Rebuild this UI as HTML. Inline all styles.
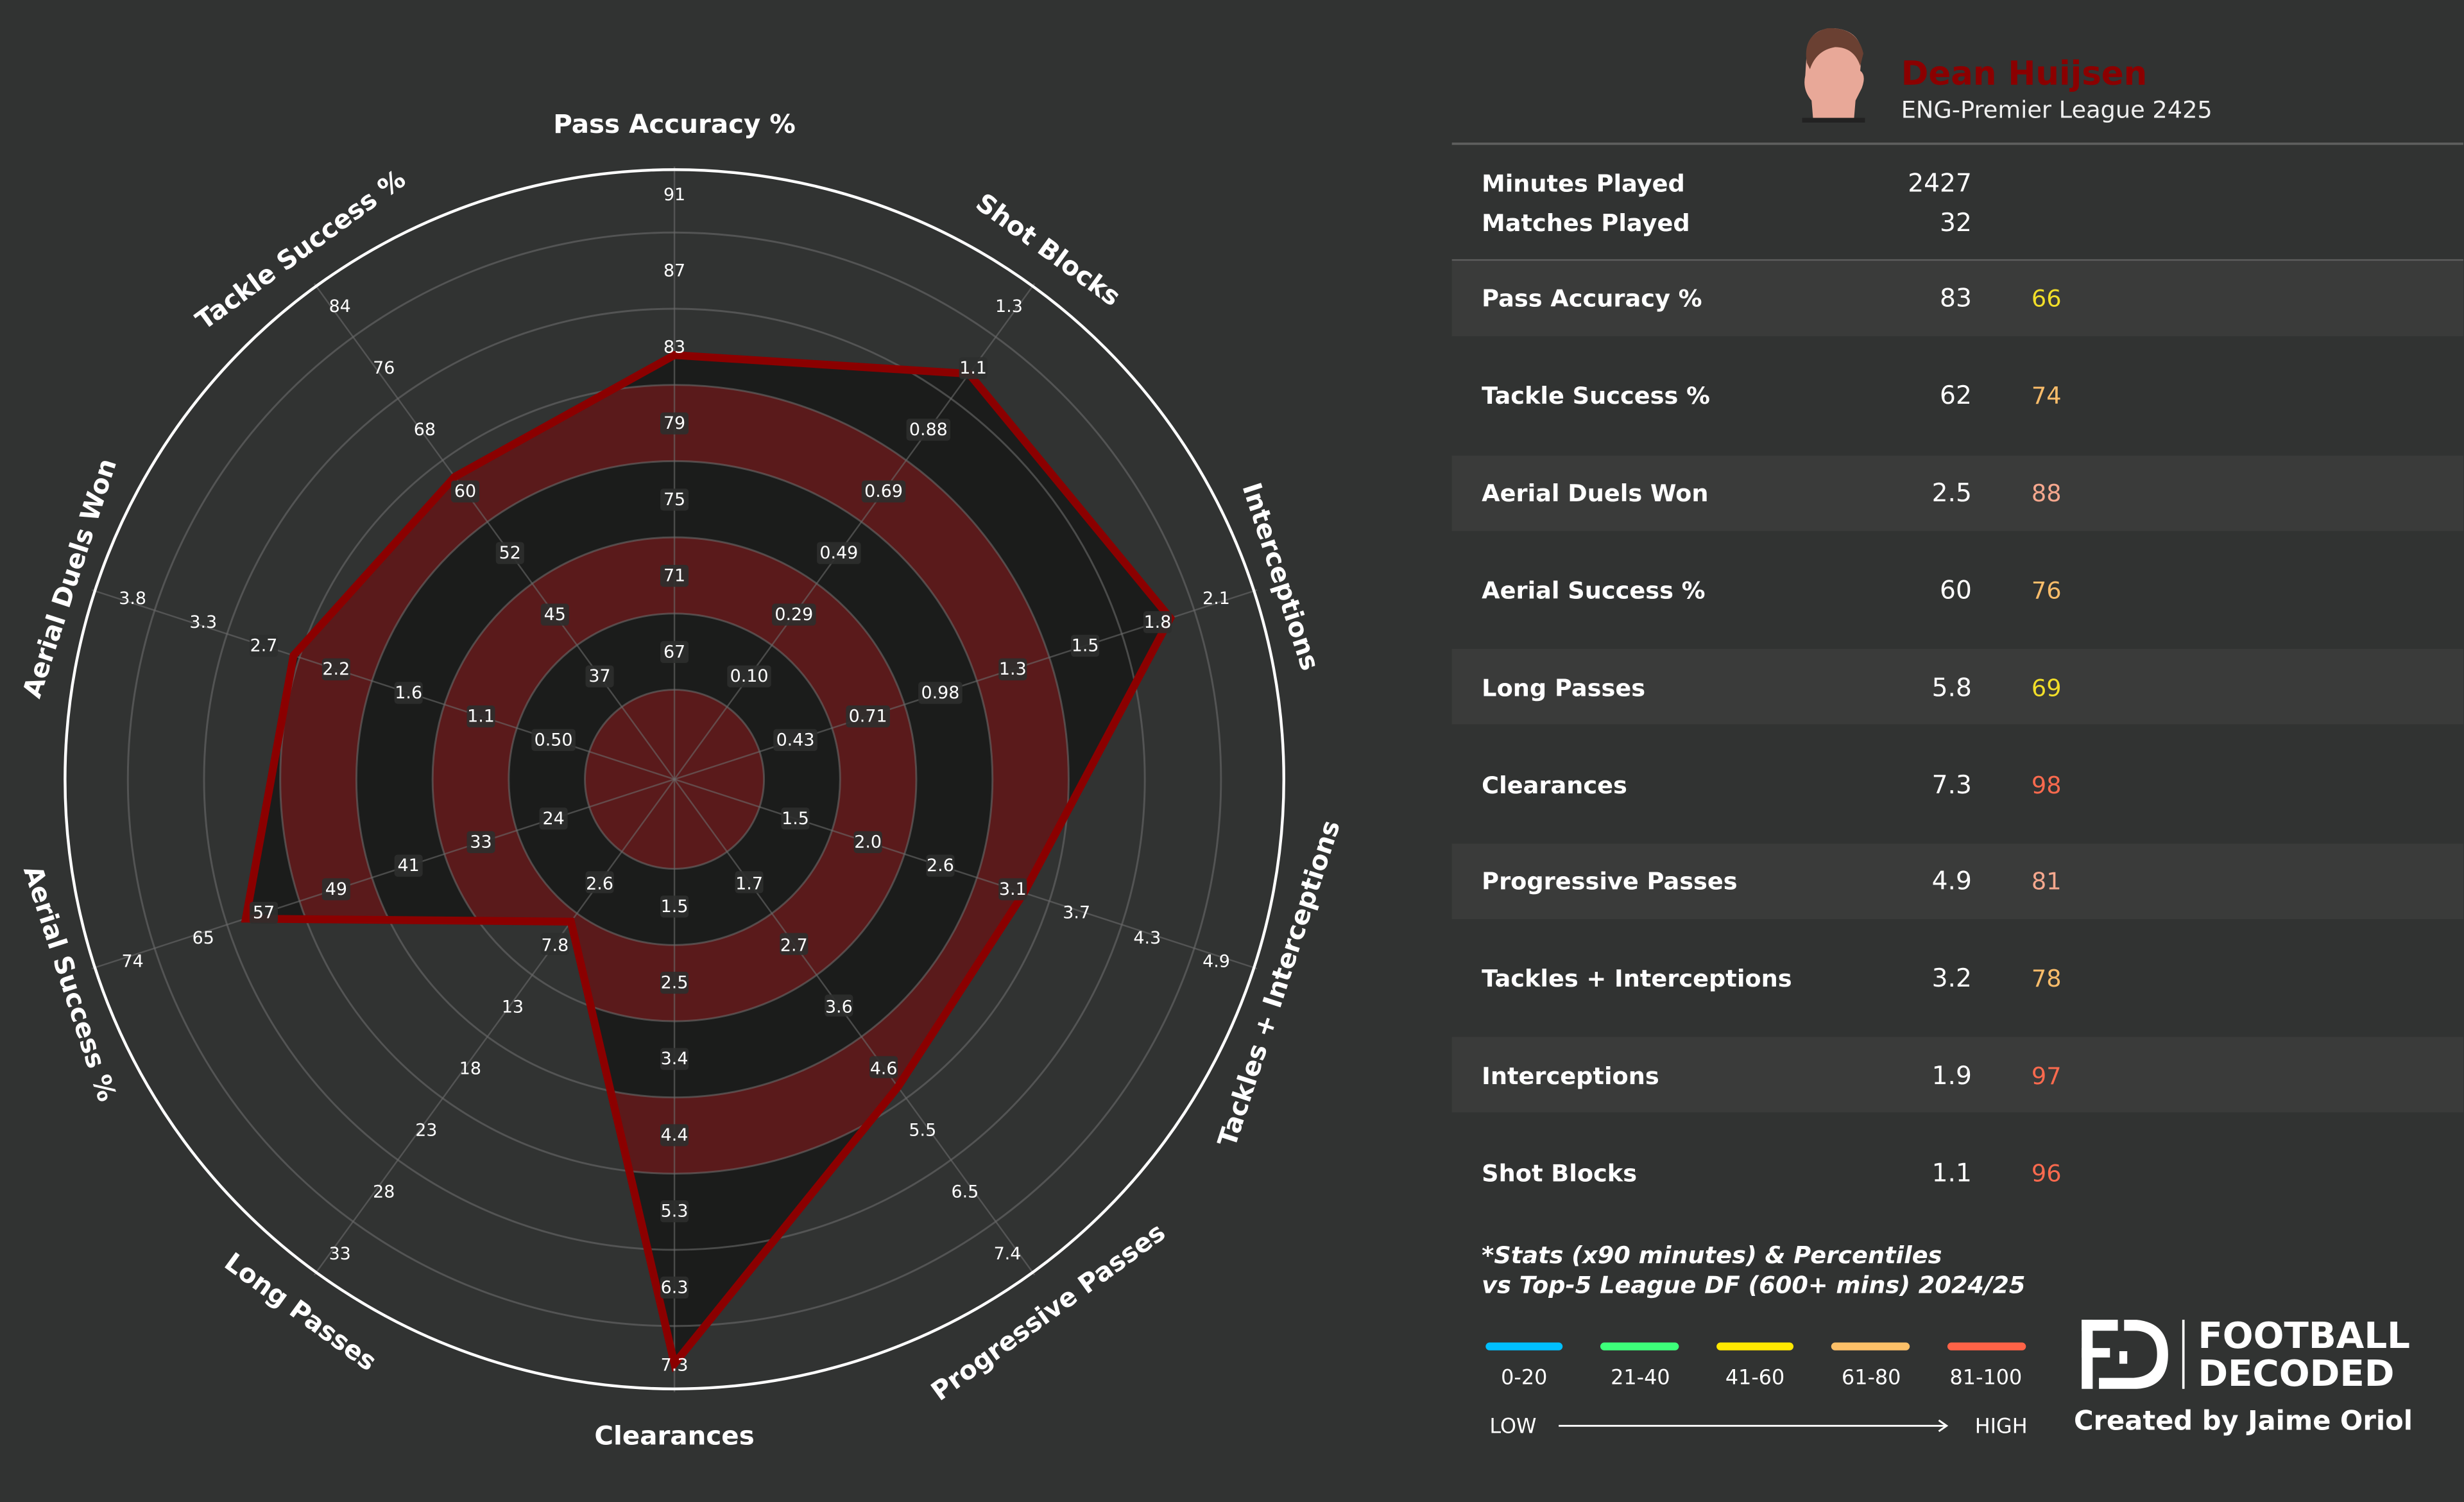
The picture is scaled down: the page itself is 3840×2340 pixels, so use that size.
<!DOCTYPE html>
<html><head><meta charset="utf-8"><style>
html,body{margin:0;padding:0;background:#313332;}
svg{display:block;}
text{font-family:"DejaVu Sans","Liberation Sans",sans-serif;}
.t{font-size:11px;fill:#fff;text-anchor:middle;dominant-baseline:central;}
.ax{font-size:16.5px;font-weight:bold;fill:#fff;text-anchor:middle;dominant-baseline:central;}
.lab{font-size:15px;font-weight:bold;fill:#fff;}
.val{font-size:16px;fill:#fff;text-anchor:end;}
.pc{font-size:15px;}
.lg{font-size:13px;fill:#fff;text-anchor:middle;}
</style></head><body>
<svg width="3840" height="2340" viewBox="0 0 1568 956" xmlns="http://www.w3.org/2000/svg">
<defs>
<clipPath id="poly"><polygon points="429,226 616.6,237.9 744.7,393.4 651.5,568.3 571.3,691.8 429,868 363.1,586.6 156.1,584.7 186.5,417.2 289.1,303.5"/></clipPath>
</defs>
<rect width="1568" height="956" fill="#313332"/>
<!-- polygon fill and bands -->
<g clip-path="url(#poly)">
<rect width="900" height="956" fill="#1b1c1b"/>
<circle cx="429" cy="496" r="251" fill="#5a1a1b"/>
<circle cx="429" cy="496" r="202.5" fill="#1b1c1b"/>
<circle cx="429" cy="496" r="154" fill="#5a1a1b"/>
<circle cx="429" cy="496" r="105.5" fill="#1b1c1b"/>
<circle cx="429" cy="496" r="57" fill="#5a1a1b"/>
</g>
<!-- grid -->
<g fill="none" stroke="#6a6a6a" stroke-opacity="0.6" stroke-width="1.2">
<circle cx="429" cy="496" r="57"/><circle cx="429" cy="496" r="105.5"/><circle cx="429" cy="496" r="154"/>
<circle cx="429" cy="496" r="202.5"/><circle cx="429" cy="496" r="251"/><circle cx="429" cy="496" r="299.5"/><circle cx="429" cy="496" r="348"/>
</g>
<g stroke="#6a6a6a" stroke-opacity="0.6" stroke-width="1">
<line x1="429" y1="496" x2="429" y2="106"/>
<line x1="429" y1="496" x2="658.3" y2="180.5"/>
<line x1="429" y1="496" x2="799.9" y2="375.5"/>
<line x1="429" y1="496" x2="799.9" y2="616.5"/>
<line x1="429" y1="496" x2="658.3" y2="811.5"/>
<line x1="429" y1="496" x2="429" y2="886"/>
<line x1="429" y1="496" x2="199.7" y2="811.5"/>
<line x1="429" y1="496" x2="58.1" y2="616.5"/>
<line x1="429" y1="496" x2="58.1" y2="375.5"/>
<line x1="429" y1="496" x2="199.7" y2="180.5"/>
</g>
<circle cx="429" cy="496" r="388" fill="none" stroke="#fff" stroke-width="1.8"/>
<!-- outline -->
<polygon points="429,226 616.6,237.9 744.7,393.4 651.5,568.3 571.3,691.8 429,868 363.1,586.6 156.1,584.7 186.5,417.2 289.1,303.5" fill="none" stroke="#8b0000" stroke-width="5" stroke-linejoin="miter"/>

<!-- tick label boxes -->
<g fill="#2e2f2e" fill-opacity="0.9">
<rect x="420" y="408" width="18" height="14" rx="2"/><rect x="420" y="359.5" width="18" height="14" rx="2"/><rect x="420" y="311" width="18" height="14" rx="2"/><rect x="420" y="262.5" width="18" height="14" rx="2"/>
<rect x="462.6" y="423.5" width="28" height="14" rx="2"/><rect x="491.1" y="384.2" width="28" height="14" rx="2"/><rect x="519.7" y="345" width="28" height="14" rx="2"/><rect x="548.2" y="305.8" width="28" height="14" rx="2"/><rect x="576.7" y="266.5" width="28" height="14" rx="2"/><rect x="610.2" y="227.3" width="18" height="14" rx="2"/>
<rect x="492" y="464" width="28" height="14" rx="2"/><rect x="538.2" y="449" width="28" height="14" rx="2"/><rect x="584.3" y="434" width="28" height="14" rx="2"/><rect x="635.4" y="419" width="18" height="14" rx="2"/><rect x="681.5" y="404" width="18" height="14" rx="2"/><rect x="727.6" y="389" width="18" height="14" rx="2"/>
<rect x="497" y="514" width="18" height="14" rx="2"/><rect x="543.2" y="529" width="18" height="14" rx="2"/><rect x="589.3" y="544" width="18" height="14" rx="2"/><rect x="635.4" y="559" width="18" height="14" rx="2"/>
<rect x="467.6" y="554.5" width="18" height="14" rx="2"/><rect x="496.1" y="593.8" width="18" height="14" rx="2"/><rect x="524.7" y="633" width="18" height="14" rx="2"/><rect x="553.2" y="672.2" width="18" height="14" rx="2"/>
<rect x="420" y="570" width="18" height="14" rx="2"/><rect x="420" y="618.5" width="18" height="14" rx="2"/><rect x="420" y="667" width="18" height="14" rx="2"/><rect x="420" y="715.5" width="18" height="14" rx="2"/><rect x="420" y="764" width="18" height="14" rx="2"/><rect x="420" y="812.5" width="18" height="14" rx="2"/>
<rect x="372.4" y="554.5" width="18" height="14" rx="2"/><rect x="343.9" y="593.8" width="18" height="14" rx="2"/>
<rect x="343" y="514" width="18" height="14" rx="2"/><rect x="296.8" y="529" width="18" height="14" rx="2"/><rect x="250.7" y="544" width="18" height="14" rx="2"/><rect x="204.6" y="559" width="18" height="14" rx="2"/><rect x="158.5" y="574" width="18" height="14" rx="2"/>
<rect x="338" y="464" width="28" height="14" rx="2"/><rect x="296.8" y="449" width="18" height="14" rx="2"/><rect x="250.7" y="434" width="18" height="14" rx="2"/><rect x="204.6" y="419" width="18" height="14" rx="2"/><rect x="158.5" y="404" width="18" height="14" rx="2"/>
<rect x="372.4" y="423.5" width="18" height="14" rx="2"/><rect x="343.9" y="384.2" width="18" height="14" rx="2"/><rect x="315.3" y="345" width="18" height="14" rx="2"/><rect x="286.8" y="305.8" width="18" height="14" rx="2"/>
</g>
<!-- tick labels -->
<g class="tk">
<text class="t" x="429" y="415">67</text><text class="t" x="429" y="366.5">71</text><text class="t" x="429" y="318">75</text><text class="t" x="429" y="269.5">79</text><text class="t" x="429" y="221">83</text><text class="t" x="429" y="172.5">87</text><text class="t" x="429" y="124">91</text>
<text class="t" x="476.6" y="430.5">0.10</text><text class="t" x="505.1" y="391.2">0.29</text><text class="t" x="533.7" y="352">0.49</text><text class="t" x="562.2" y="312.8">0.69</text><text class="t" x="590.7" y="273.5">0.88</text><text class="t" x="619.2" y="234.3">1.1</text><text class="t" x="642" y="195">1.3</text>
<text class="t" x="506" y="471">0.43</text><text class="t" x="552.2" y="456">0.71</text><text class="t" x="598.3" y="441">0.98</text><text class="t" x="644.4" y="426">1.3</text><text class="t" x="690.5" y="411">1.5</text><text class="t" x="736.6" y="396">1.8</text><text class="t" x="774" y="381">2.1</text>
<text class="t" x="506" y="521">1.5</text><text class="t" x="552.2" y="536">2.0</text><text class="t" x="598.3" y="551">2.6</text><text class="t" x="644.4" y="566">3.1</text><text class="t" x="685" y="581">3.7</text><text class="t" x="730" y="597">4.3</text><text class="t" x="774" y="612">4.9</text>
<text class="t" x="476.6" y="562.5">1.7</text><text class="t" x="505.1" y="601.8">2.7</text><text class="t" x="533.7" y="641">3.6</text><text class="t" x="562.2" y="680.2">4.6</text><text class="t" x="587" y="719.5">5.5</text><text class="t" x="614" y="758.7">6.5</text><text class="t" x="641" y="798">7.4</text>
<text class="t" x="429" y="577">1.5</text><text class="t" x="429" y="625.5">2.5</text><text class="t" x="429" y="674">3.4</text><text class="t" x="429" y="722.5">4.4</text><text class="t" x="429" y="771">5.3</text><text class="t" x="429" y="819.5">6.3</text><text class="t" x="429" y="869">7.3</text>
<text class="t" x="381.4" y="562.5">2.6</text><text class="t" x="352.9" y="601.8">7.8</text><text class="t" x="326" y="641">13</text><text class="t" x="299" y="680.2">18</text><text class="t" x="271" y="719.5">23</text><text class="t" x="244" y="758.7">28</text><text class="t" x="216" y="798">33</text>
<text class="t" x="352" y="521">24</text><text class="t" x="305.8" y="536">33</text><text class="t" x="259.7" y="551">41</text><text class="t" x="213.6" y="566">49</text><text class="t" x="167.5" y="581">57</text><text class="t" x="129" y="597">65</text><text class="t" x="84" y="612">74</text>
<text class="t" x="352" y="471">0.50</text><text class="t" x="305.8" y="456">1.1</text><text class="t" x="259.7" y="441">1.6</text><text class="t" x="213.6" y="426">2.2</text><text class="t" x="167.5" y="411">2.7</text><text class="t" x="129" y="396">3.3</text><text class="t" x="84" y="381">3.8</text>
<text class="t" x="381.4" y="430.5">37</text><text class="t" x="352.9" y="391.2">45</text><text class="t" x="324.3" y="352">52</text><text class="t" x="295.8" y="312.8">60</text><text class="t" x="270" y="273.5">68</text><text class="t" x="244" y="234.3">76</text><text class="t" x="216" y="195">84</text>
</g>
<!-- axis labels -->
<text class="ax" x="429" y="79">Pass Accuracy %</text>
<text class="ax" transform="translate(667,159) rotate(36)">Shot Blocks</text>
<text class="ax" transform="translate(815,367) rotate(72)">Interceptions</text>
<text class="ax" transform="translate(814,626) rotate(-72)">Tackles + Interceptions</text>
<text class="ax" transform="translate(667,835) rotate(-36)">Progressive Passes</text>
<text class="ax" x="429" y="914">Clearances</text>
<text class="ax" transform="translate(191,835) rotate(36)">Long Passes</text>
<text class="ax" transform="translate(44,626) rotate(72)">Aerial Success %</text>
<text class="ax" transform="translate(44,368) rotate(-72)">Aerial Duels Won</text>
<text class="ax" transform="translate(191,159) rotate(-36)">Tackle Success %</text>

<!-- right panel header -->
<g>
<path d="M1150,32 Q1152,18 1167,18 Q1183,19 1185,33 L1184,45 Q1188,48 1185,56 L1181,64 L1180,76 L1154,76 L1153,64 Q1147,57 1149,48 Z" fill="#e8a898"/>
<path d="M1150,40 Q1147,22 1163,18 Q1182,17 1186,34 L1184,42 Q1180,30 1168,30 Q1156,32 1152,44 Z" fill="#6a4032"/>
<rect x="1147" y="75" width="40" height="3" fill="#222"/>
</g>
<text x="1210" y="54" font-size="21" font-weight="bold" fill="#8b0000">Dean Huijsen</text>
<text x="1210" y="75" font-size="15" fill="#f0f0f0">ENG-Premier League 2425</text>
<line x1="924" y1="91.5" x2="1568" y2="91.5" stroke="#5e5f5e" stroke-width="1.5"/>
<text class="lab" x="943" y="122">Minutes Played</text><text class="val" x="1255" y="122">2427</text>
<text class="lab" x="943" y="147">Matches Played</text><text class="val" x="1255" y="147">32</text>
<line x1="924" y1="165.5" x2="1568" y2="165.5" stroke="#5e5f5e" stroke-width="1"/>
<g fill="#3a3b3a">
<rect x="924" y="166" width="644" height="48"/><rect x="924" y="290" width="644" height="48"/><rect x="924" y="413" width="644" height="48"/><rect x="924" y="537" width="644" height="48"/><rect x="924" y="660" width="644" height="48"/>
</g>
<g>
<text class="lab" x="943" y="195">Pass Accuracy %</text><text class="val" x="1255" y="195">83</text><text class="pc" x="1293" y="195" fill="#f2de29">66</text>
<text class="lab" x="943" y="257">Tackle Success %</text><text class="val" x="1255" y="257">62</text><text class="pc" x="1293" y="257" fill="#fbbd6a">74</text>
<text class="lab" x="943" y="319">Aerial Duels Won</text><text class="val" x="1255" y="319">2.5</text><text class="pc" x="1293" y="319" fill="#f7a88e">88</text>
<text class="lab" x="943" y="381">Aerial Success %</text><text class="val" x="1255" y="381">60</text><text class="pc" x="1293" y="381" fill="#fbbd6a">76</text>
<text class="lab" x="943" y="443">Long Passes</text><text class="val" x="1255" y="443">5.8</text><text class="pc" x="1293" y="443" fill="#f2de29">69</text>
<text class="lab" x="943" y="505">Clearances</text><text class="val" x="1255" y="505">7.3</text><text class="pc" x="1293" y="505" fill="#fb6a4e">98</text>
<text class="lab" x="943" y="566">Progressive Passes</text><text class="val" x="1255" y="566">4.9</text><text class="pc" x="1293" y="566" fill="#f7a88e">81</text>
<text class="lab" x="943" y="628">Tackles + Interceptions</text><text class="val" x="1255" y="628">3.2</text><text class="pc" x="1293" y="628" fill="#fbbd6a">78</text>
<text class="lab" x="943" y="690">Interceptions</text><text class="val" x="1255" y="690">1.9</text><text class="pc" x="1293" y="690" fill="#fb6a4e">97</text>
<text class="lab" x="943" y="752">Shot Blocks</text><text class="val" x="1255" y="752">1.1</text><text class="pc" x="1293" y="752" fill="#fb6a4e">96</text>
</g>
<text x="943" y="804" font-size="15" font-weight="bold" font-style="italic" fill="#fff">*Stats (x90 minutes) &amp; Percentiles</text>
<text x="943" y="823" font-size="15" font-weight="bold" font-style="italic" fill="#fff">vs Top-5 League DF (600+ mins) 2024/25</text>
<g stroke-width="5" stroke-linecap="round">
<line x1="948" y1="857" x2="992" y2="857" stroke="#00bfff"/>
<line x1="1021" y1="857" x2="1066" y2="857" stroke="#3dff7a"/>
<line x1="1095" y1="857" x2="1139" y2="857" stroke="#ffe800"/>
<line x1="1168" y1="857" x2="1213" y2="857" stroke="#fdc068"/>
<line x1="1242" y1="857" x2="1287" y2="857" stroke="#ff6347"/>
</g>
<text class="lg" x="970" y="881">0-20</text><text class="lg" x="1044" y="881">21-40</text><text class="lg" x="1117" y="881">41-60</text><text class="lg" x="1191" y="881">61-80</text><text class="lg" x="1264" y="881">81-100</text>
<text x="948" y="912" font-size="13" fill="#fff">LOW</text>
<line x1="992" y1="907.5" x2="1238" y2="907.5" stroke="#fff" stroke-width="1.2"/>
<path d="M1234,904 L1239,907.5 L1234,911" fill="none" stroke="#fff" stroke-width="1.2"/>
<text x="1257" y="912" font-size="13" fill="#fff">HIGH</text>
<!-- logo -->
<g fill="#fff">
<rect x="1325" y="840" width="7" height="44"/>
<rect x="1325" y="840" width="23" height="7"/>
<rect x="1325" y="858" width="18" height="6"/>
<rect x="1349" y="860" width="5" height="8"/>
<path d="M1352,840 L1360,840 Q1380,842 1380,862 Q1380,883 1360,884 L1336,884 L1336,877 L1358,877 Q1373,876 1373,862 Q1373,848 1360,847 L1352,847 Z"/>
<rect x="1389" y="840" width="1.5" height="44"/>
</g>
<text x="1399" y="858" font-size="23" font-weight="bold" fill="#fff">FOOTBALL</text>
<text x="1399" y="882" font-size="23" font-weight="bold" fill="#fff">DECODED</text>
<text x="1320" y="910" font-size="17" font-weight="bold" fill="#fff">Created by Jaime Oriol</text>
</svg>
</body></html>
